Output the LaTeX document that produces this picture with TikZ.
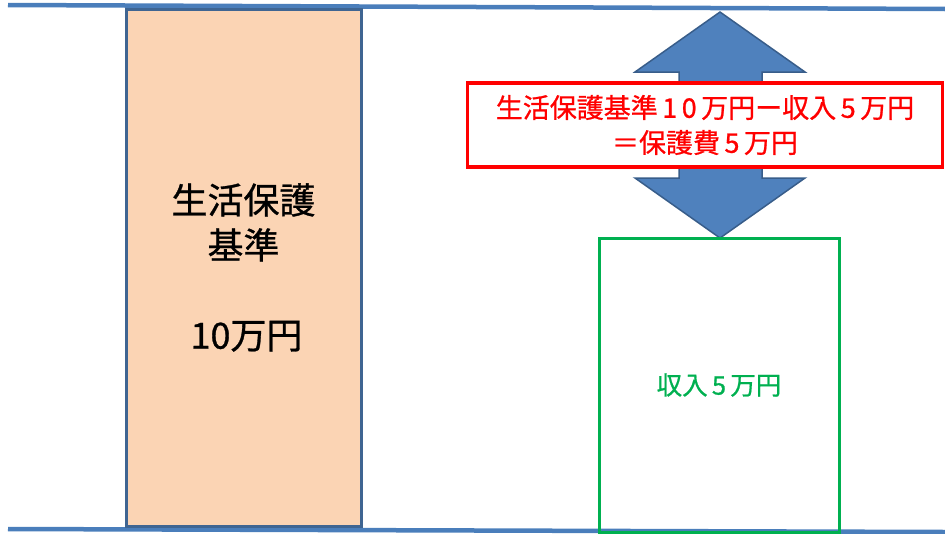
\documentclass[tikz,border=0pt]{standalone}
\usepackage{fontspec}
\setmainfont{Noto Sans CJK JP}[FakeBold=0.8]
\usetikzlibrary{positioning}
\definecolor{lineblue}{HTML}{4A7EBB}
\definecolor{boxblue}{HTML}{3F6592}
\definecolor{peach}{HTML}{FBD4B4}
\definecolor{arrowblue}{HTML}{4F81BD}
\definecolor{arrowedge}{HTML}{385D8A}
\definecolor{incomegreen}{HTML}{00B050}

\begin{document}
\begin{tikzpicture}[x=1pt, y=-1pt,
  frame line/.style={draw=lineblue, line width=4.5pt},
  base box/.style={draw=boxblue, fill=peach, line width=3pt, inner sep=0pt,
    minimum width=235pt, minimum height=517pt, align=center,
    font=\fontsize{36}{45}\selectfont},
  formula box/.style={draw=red, fill=white, text=red, line width=3.5pt, inner sep=0pt,
    minimum width=475pt, minimum height=84pt, align=center,
    font=\fontsize{27}{35}\selectfont},
  income box/.style={draw=incomegreen, text=incomegreen, line width=3pt, inner sep=0pt,
    minimum width=240pt, minimum height=294pt,
    font=\fontsize{25.5}{30}\selectfont}]
  \useasboundingbox (0,0) rectangle (945,533);

  % frame lines
  \coordinate (top west) at (8,5);
  \coordinate (top east) at (945,9);
  \coordinate (bottom west) at (8,529);
  \coordinate (bottom east) at (945,532);
  \draw[frame line] (top west) -- (top east);
  \draw[frame line] (bottom west) -- (bottom east);

  \node[base box] (standard) at (243.5,267.5) {生活保護\\基準\\[45pt]\,10万円};

  % double arrow
  \draw[fill=arrowblue, draw=arrowedge, line width=1.5pt, line join=miter]
    (720,12) -- (805,72) -- (762,72) -- (762,178) -- (805,178) -- (720,238)
    -- (635,178) -- (679,178) -- (679,72) -- (635,72) -- cycle;

  \node[formula box] (formula) at (705,125)
    {生活保護基準\,1\,0\,万円ー収入\,5\,万円\\＝保護費\,5\,万円};
  \node[income box] (income) at (719,385) {収入\,5\,万円};
\end{tikzpicture}
\end{document}
